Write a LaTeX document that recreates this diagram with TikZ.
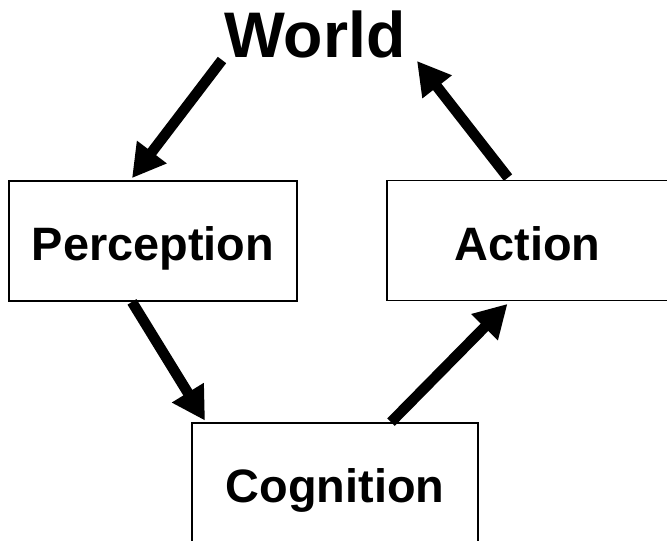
\documentclass[tikz,border=0pt]{standalone}
\usepackage{fontspec}
\setmainfont{Liberation Sans}
\usetikzlibrary{arrows.meta,calc}

\begin{document}
\begin{tikzpicture}[x=0.03cm, y=-0.03cm,
  box/.style={draw, line width=1.5pt, minimum width=#1, minimum height=3.6cm, inner sep=0pt,
    text height=34pt, text depth=0pt, font=\fontsize{40}{44}\selectfont\bfseries},
  flow/.style={-{Triangle[length=28pt,width=30pt]}, line width=9pt}]
  \useasboundingbox (0,0) rectangle (667,541);
  \node (world) at (315,34) [inner sep=0pt, text height=39.4pt, text depth=0pt,
    font=\fontsize{55}{60}\selectfont\bfseries] {World};
  \node[box=8.64cm] (perc) at (153,241) {Perception};
  \node[box=8.43cm] (act) at (527.5,240.5) {Action};
  \node[box=8.58cm] (cog) at (335,483) {Cognition};
  \coordinate (wl) at (222,60);
  \coordinate (wr) at (417,61);
  % loop round the world
  \draw[flow] (wl) -- ($(perc.north)+(-21,-2)$);
  \draw[flow] ($(perc.south)+(-21,0)$) -- ($(cog.north)+(-130,-1.5)$);
  \draw[flow] ($(cog.north)+(56,0)$) -- ($(act.south)+(-20,2.5)$);
  \draw[flow] ($(act.north)+(-19.5,-2)$) -- (wr);
\end{tikzpicture}
\end{document}
